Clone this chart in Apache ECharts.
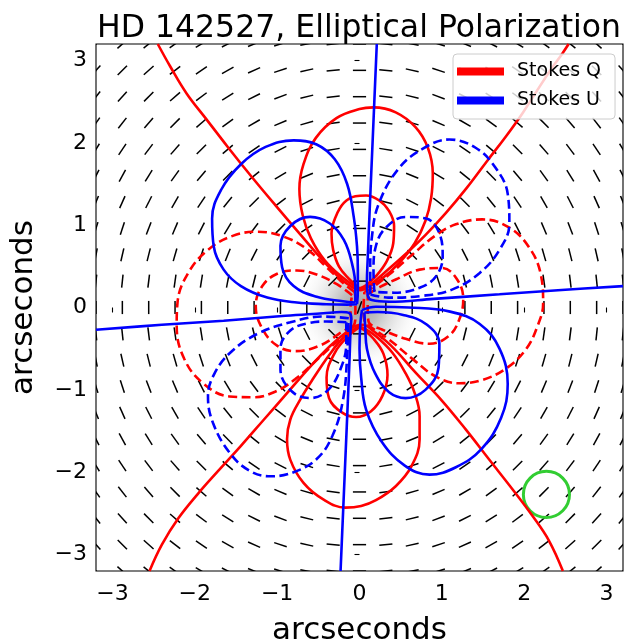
<!DOCTYPE html>
<html>
<head>
<meta charset="utf-8">
<script src="https://cdn.jsdelivr.net/npm/echarts@6/dist/echarts.min.js"></script>
<style>
  html, body { margin: 0; padding: 0; background: #ffffff; overflow: hidden; }
  #chart { width: 626px; height: 644px; }
</style>
</head>
<body>
<div id="chart"></div>
<script>
// ---- axes ----
const axisRange = [-3.2, 3.2];
const tickValues = [-3, -2, -1, 0, 1, 2, 3];
const tickLabels = ['\u22123', '\u22122', '\u22121', '0', '1', '2', '3'];

// ---- polarization vector grid (arcsec) and position angles (deg, from +x) ----
const gridValues = [-3.2, -2.88, -2.56, -2.24, -1.92, -1.6, -1.28, -0.96, -0.64, -0.32, 0,
                    0.32, 0.64, 0.96, 1.28, 1.6, 1.92, 2.24, 2.56, 2.88, 3.2];
// rows from y = +3.2 (top) down to y = -3.2 (bottom); columns x = -3.2 .. 3.2
const vectorAngles = [
  [45,42,39,35,31,27,22,17,11,6,0,174,169,163,158,153,149,145,141,138,135],
  [48,45,42,38,34,29,24,18,13,6,0,174,167,162,156,151,146,142,138,135,132],
  [51,48,45,41,37,32,27,21,14,7,0,173,166,159,153,148,143,139,135,132,129],
  [55,52,49,45,41,36,30,23,16,8,0,172,164,157,150,144,139,135,131,128,125],
  [59,56,53,49,45,40,34,27,18,9,0,171,162,153,146,140,135,131,127,124,121],
  [63,61,58,54,50,45,39,31,22,11,0,169,158,149,141,135,130,126,122,119,117],
  [68,66,63,60,56,51,45,37,27,14,0,166,153,143,135,129,124,120,117,114,112],
  [73,72,69,67,63,59,53,45,34,18,0,162,146,135,127,121,117,113,111,108,107],
  [79,77,76,74,72,68,63,56,45,27,0,153,135,124,117,112,108,106,104,103,101],
  [84,84,83,82,81,79,76,72,63,45,0,135,117,108,104,101,99,98,97,96,96],
  [90,90,90,90,90,90,90,90,90,90,70,90,90,90,90,90,90,90,90,90,90],
  [96,96,97,98,99,101,104,108,117,135,0,45,63,72,76,79,81,82,83,84,84],
  [101,103,104,106,108,112,117,124,135,153,0,27,45,56,63,68,72,74,76,77,79],
  [107,108,111,113,117,121,127,135,146,162,0,18,34,45,53,59,63,67,69,72,73],
  [112,114,117,120,124,129,135,143,153,166,0,14,27,37,45,51,56,60,63,66,68],
  [117,119,122,126,130,135,141,149,158,169,0,11,22,31,39,45,50,54,58,61,63],
  [121,124,127,131,135,140,146,153,162,171,0,9,18,27,34,40,45,49,53,56,59],
  [125,128,131,135,139,144,150,157,164,172,0,8,16,23,30,36,41,45,49,52,55],
  [129,132,135,139,143,148,153,159,166,173,0,7,14,21,27,32,37,41,45,48,51],
  [132,135,138,142,146,151,156,162,167,174,0,6,13,18,24,29,34,38,42,45,48],
  [135,138,141,145,149,153,158,163,169,174,0,6,11,17,22,27,31,35,39,42,45]
];
const vectorLength = 0.16;   // arcsec

// ---- stellar halo and beam ----
const haloCenter = [0, 0];
const haloRadius = 0.8;
const beamCenter = [2.27, -2.27];
const beamRadius = 0.28;

// ---- Stokes Q contours (arcsec) ----
const qZeroUpper = [[-2.45,3.2],[-2.3,2.93],[-2.1,2.6],[-1.87,2.3],[-1.6,1.95],[-1.32,1.6],[-1.02,1.24],
  [-0.73,0.9],[-0.47,0.6],[-0.24,0.36],[-0.08,0.24],[0.01,0.21],[0.1,0.25],[0.3,0.42],[0.55,0.64],
  [0.8,0.88],[1.05,1.15],[1.3,1.45],[1.55,1.78],[1.78,2.08],[1.98,2.36],[2.16,2.64],[2.33,2.9],[2.46,3.08],[2.54,3.2]];
const qZeroLower = [[-2.55,-3.2],[-2.4,-2.88],[-2.2,-2.56],[-1.96,-2.26],[-1.73,-2.0],[-1.44,-1.68],[-1.16,-1.36],
  [-0.88,-1.04],[-0.6,-0.72],[-0.36,-0.47],[-0.16,-0.3],[-0.04,-0.22],[0.04,-0.21],[0.16,-0.28],[0.38,-0.46],
  [0.69,-0.8],[1.0,-1.13],[1.29,-1.48],[1.57,-1.84],[1.86,-2.21],[2.1,-2.53],[2.3,-2.83],[2.47,-3.2]];
const qPosTopOuter = [[0.0,0.22],[-0.2,0.36],[-0.42,0.57],[-0.59,0.84],[-0.69,1.12],[-0.73,1.44],[-0.68,1.74],
  [-0.53,2.06],[-0.28,2.3],[0.0,2.41],[0.17,2.43],[0.44,2.37],[0.68,2.19],[0.83,1.94],[0.89,1.63],[0.87,1.33],
  [0.8,1.05],[0.67,0.78],[0.48,0.54],[0.27,0.35],[0.08,0.24],[0.0,0.22]];
const qPosTopInner = [[0.0,0.23],[-0.13,0.35],[-0.25,0.5],[-0.32,0.7],[-0.34,0.9],[-0.29,1.1],[-0.19,1.27],
  [-0.05,1.35],[0.08,1.36],[0.24,1.3],[0.36,1.17],[0.42,0.99],[0.41,0.78],[0.33,0.56],[0.2,0.38],[0.08,0.27],[0.0,0.23]];
const qPosBottomOuter = [[-0.01,-0.23],[-0.2,-0.37],[-0.37,-0.58],[-0.56,-0.86],[-0.72,-1.12],[-0.84,-1.36],
  [-0.88,-1.6],[-0.84,-1.85],[-0.68,-2.13],[-0.44,-2.33],[-0.17,-2.43],[0.02,-2.41],[0.2,-2.34],[0.44,-2.17],
  [0.63,-1.93],[0.73,-1.6],[0.73,-1.32],[0.67,-1.04],[0.56,-0.8],[0.4,-0.55],[0.2,-0.35],[0.05,-0.25],[-0.01,-0.23]];
const qPosBottomInner = [[0.0,-0.24],[-0.15,-0.36],[-0.3,-0.55],[-0.4,-0.85],[-0.37,-1.1],[-0.22,-1.27],
  [-0.04,-1.33],[0.14,-1.26],[0.28,-1.07],[0.34,-0.82],[0.29,-0.56],[0.17,-0.38],[0.05,-0.27],[0.0,-0.24]];
const qNegLeftOuter = [[-0.06,0.19],[-0.18,0.28],[-0.38,0.47],[-0.64,0.71],[-0.92,0.86],[-1.24,0.92],[-1.54,0.87],
  [-1.84,0.7],[-2.08,0.42],[-2.21,0.06],[-2.22,-0.22],[-2.13,-0.62],[-1.9,-0.92],[-1.58,-1.08],[-1.28,-1.09],
  [-1.02,-1.02],[-0.78,-0.87],[-0.5,-0.62],[-0.25,-0.39],[-0.09,-0.25],[-0.05,-0.14],[-0.05,0.0],[-0.05,0.12],[-0.06,0.19]];
const qNegLeftInner = [[-0.09,0.15],[-0.27,0.28],[-0.52,0.4],[-0.76,0.45],[-1.0,0.41],[-1.18,0.26],[-1.26,0.02],
  [-1.2,-0.22],[-1.02,-0.45],[-0.78,-0.53],[-0.5,-0.47],[-0.25,-0.32],[-0.1,-0.19],[-0.11,-0.02],[-0.09,0.15]];
const qNegRightOuter = [[0.06,0.19],[0.14,0.23],[0.36,0.4],[0.65,0.65],[0.93,0.88],[1.17,1.01],[1.49,1.07],
  [1.82,0.97],[2.06,0.73],[2.2,0.41],[2.23,0.05],[2.16,-0.23],[2.02,-0.51],[1.78,-0.74],[1.49,-0.88],[1.21,-0.92],
  [0.93,-0.84],[0.65,-0.63],[0.36,-0.39],[0.14,-0.24],[0.06,-0.17],[0.05,0.0],[0.06,0.19]];
const qNegRightInner = [[0.1,0.16],[0.25,0.25],[0.44,0.34],[0.73,0.46],[1.0,0.48],[1.18,0.35],[1.26,0.1],
  [1.21,-0.15],[1.08,-0.35],[0.85,-0.44],[0.56,-0.38],[0.28,-0.27],[0.11,-0.17],[0.1,0.0],[0.1,0.16]];

// ---- Stokes U contours (arcsec) ----
const uZeroUpperRight = [[0.21,3.2],[0.18,2.5],[0.15,1.8],[0.12,1.1],[0.1,0.6],[0.09,0.3],[0.1,0.15],[0.15,0.09],
  [0.36,0.07],[0.9,0.105],[1.7,0.16],[2.5,0.215],[3.2,0.26]];
const uZeroLowerLeft = [[-3.2,-0.27],[-2.4,-0.21],[-1.65,-0.16],[-0.9,-0.1],[-0.44,-0.07],[-0.22,-0.055],[-0.12,-0.07],
  [-0.1,-0.13],[-0.11,-0.3],[-0.12,-0.6],[-0.14,-1.1],[-0.17,-1.8],[-0.2,-2.5],[-0.23,-3.2]];
const uPosTopLeftOuter = [[-0.03,0.04],[-0.02,0.2],[-0.02,0.45],[-0.03,0.74],[-0.07,1.1],[-0.15,1.5],[-0.3,1.8],
  [-0.52,1.98],[-0.8,2.03],[-1.14,1.95],[-1.44,1.74],[-1.68,1.43],[-1.79,1.08],[-1.77,0.74],[-1.65,0.46],[-1.44,0.26],
  [-1.12,0.12],[-0.76,0.06],[-0.4,0.04],[-0.15,0.035],[-0.03,0.04]];
const uPosTopLeftInner = [[-0.05,0.06],[-0.05,0.25],[-0.09,0.53],[-0.19,0.82],[-0.36,1.02],[-0.6,1.1],[-0.84,0.99],
  [-0.96,0.75],[-0.94,0.49],[-0.8,0.26],[-0.52,0.13],[-0.2,0.075],[-0.05,0.06]];
const uPosBottomRightOuter = [[0.03,-0.03],[0.01,-0.2],[0.0,-0.5],[0.02,-0.85],[0.08,-1.24],[0.27,-1.63],[0.55,-1.92],
  [0.85,-2.03],[1.17,-1.94],[1.48,-1.72],[1.72,-1.34],[1.8,-0.93],[1.7,-0.5],[1.46,-0.2],[1.1,-0.05],[0.6,0.0],
  [0.2,0.01],[0.03,-0.03]];
const uPosBottomRightInner = [[0.06,-0.06],[0.07,-0.25],[0.09,-0.5],[0.19,-0.8],[0.36,-1.03],[0.56,-1.1],[0.8,-1.0],
  [0.96,-0.73],[0.97,-0.44],[0.82,-0.21],[0.53,-0.09],[0.22,-0.055],[0.06,-0.06]];
const uNegTopRightOuter = [[0.13,0.16],[0.13,0.45],[0.15,0.85],[0.23,1.25],[0.47,1.68],[0.77,1.93],[1.09,2.04],
  [1.41,1.94],[1.65,1.7],[1.8,1.38],[1.82,1.02],[1.7,0.7],[1.46,0.42],[1.13,0.22],[0.75,0.14],[0.35,0.12],[0.13,0.16]];
const uNegTopRightInner = [[0.18,0.19],[0.17,0.45],[0.2,0.75],[0.32,0.97],[0.56,1.1],[0.81,1.08],[0.97,0.9],
  [1.01,0.62],[0.93,0.38],[0.73,0.24],[0.42,0.18],[0.18,0.19]];
const uNegBottomLeftOuter = [[-0.13,-0.13],[-0.44,-0.11],[-0.84,-0.18],[-1.24,-0.32],[-1.56,-0.54],[-1.76,-0.8],
  [-1.84,-1.08],[-1.78,-1.4],[-1.58,-1.76],[-1.34,-1.98],[-1.08,-2.05],[-0.8,-2.0],[-0.52,-1.84],[-0.33,-1.56],
  [-0.2,-1.12],[-0.15,-0.6],[-0.14,-0.3],[-0.13,-0.13]];
const uNegBottomLeftInner = [[-0.16,-0.18],[-0.4,-0.17],[-0.62,-0.19],[-0.84,-0.28],[-0.96,-0.5],[-0.96,-0.75],
  [-0.82,-1.02],[-0.6,-1.1],[-0.38,-1.0],[-0.22,-0.72],[-0.16,-0.42],[-0.16,-0.18]];

// ---- styling ----
const FONT = 'DejaVu Sans';
const RED = '#ff0000';
const BLUE = '#0000ff';
const GREEN = '#32cd32';

const vectorData = [];
vectorAngles.forEach((row, r) => {
  const y = gridValues[gridValues.length - 1 - r];
  row.forEach((ang, c) => vectorData.push([gridValues[c], y, ang]));
});

function contour(name, pts, color, dashed) {
  return {
    type: 'line', name: name, data: pts, color: color,
    showSymbol: false, symbol: 'none', smooth: 0.4, silent: true, clip: true,
    lineStyle: { color: color, width: 2.6, type: dashed ? [9, 4.5] : 'solid', cap: 'butt' },
    itemStyle: { color: color }
  };
}

const qSeries = [
  contour('Stokes Q', qZeroUpper, RED, false),
  contour('Stokes Q', qZeroLower, RED, false),
  contour('Stokes Q', qPosTopOuter, RED, false),
  contour('Stokes Q', qPosTopInner, RED, false),
  contour('Stokes Q', qPosBottomOuter, RED, false),
  contour('Stokes Q', qPosBottomInner, RED, false),
  contour('Stokes Q', qNegLeftOuter, RED, true),
  contour('Stokes Q', qNegLeftInner, RED, true),
  contour('Stokes Q', qNegRightOuter, RED, true),
  contour('Stokes Q', qNegRightInner, RED, true)
];
const uSeries = [
  contour('Stokes U', uZeroUpperRight, BLUE, false),
  contour('Stokes U', uZeroLowerLeft, BLUE, false),
  contour('Stokes U', uPosTopLeftOuter, BLUE, false),
  contour('Stokes U', uPosTopLeftInner, BLUE, false),
  contour('Stokes U', uPosBottomRightOuter, BLUE, false),
  contour('Stokes U', uPosBottomRightInner, BLUE, false),
  contour('Stokes U', uNegTopRightOuter, BLUE, true),
  contour('Stokes U', uNegTopRightInner, BLUE, true),
  contour('Stokes U', uNegBottomLeftOuter, BLUE, true),
  contour('Stokes U', uNegBottomLeftInner, BLUE, true)
];

function tickText(v) {
  const i = tickValues.indexOf(Math.round(v));
  return i >= 0 ? tickLabels[i] : '';
}

function axis(name, nameGap, labelMargin) {
  return {
    type: 'value', min: axisRange[0], max: axisRange[1],
    axisLine: { show: false },
    splitLine: { show: false },
    axisTick: { show: true, length: 5, customValues: tickValues, lineStyle: { color: '#000', width: 1.1 } },
    axisLabel: { customValues: tickValues, formatter: tickText, fontSize: 22, color: '#000', fontFamily: FONT, margin: labelMargin },
    name: name, nameLocation: 'middle', nameGap: nameGap,
    nameTextStyle: { fontSize: 31, color: '#000', fontFamily: FONT }
  };
}

const haloFill = new echarts.graphic.RadialGradient(0.5, 0.5, 0.5, [
  { offset: 0, color: 'rgba(160,160,160,1)' },
  { offset: 0.3, color: 'rgba(185,185,185,0.9)' },
  { offset: 0.55, color: 'rgba(212,212,212,0.6)' },
  { offset: 0.8, color: 'rgba(238,238,238,0.25)' },
  { offset: 1, color: 'rgba(255,255,255,0)' }
]);

const chart = echarts.init(document.getElementById('chart'), null, { renderer: 'canvas' });
chart.setOption({
  animation: false,
  backgroundColor: '#ffffff',
  title: {
    text: 'HD 142527, Elliptical Polarization',
    left: 354, top: 8, textAlign: 'center',
    textStyle: { fontSize: 31.5, fontWeight: 'normal', color: '#000', fontFamily: FONT }
  },
  grid: {
    left: 96, top: 44, width: 527, height: 527, show: true,
    borderColor: '#000', borderWidth: 1.1, backgroundColor: 'transparent',
    outerBoundsMode: 'none', containLabel: false
  },
  xAxis: axis('arcseconds', 44, 12),
  yAxis: axis('arcseconds', 57, 9),
  legend: {
    orient: 'vertical', left: 453, top: 54, icon: 'rect',
    itemWidth: 47, itemHeight: 8, itemGap: 8,
    padding: [7, 14, 8, 4],
    backgroundColor: 'rgba(255,255,255,0.8)', borderColor: '#cccccc', borderWidth: 1, borderRadius: 4,
    textStyle: { fontSize: 19, color: '#000', fontFamily: FONT, lineHeight: 21, padding: [0, 0, 0, 8] },
    selectedMode: false,
    data: [
      { name: 'Stokes Q', itemStyle: { color: RED } },
      { name: 'Stokes U', itemStyle: { color: BLUE } }
    ]
  },
  series: [
    {
      type: 'custom', name: 'halo', silent: true, clip: true,
      data: [[haloCenter[0], haloCenter[1], haloRadius]],
      renderItem: function (params, api) {
        const c = api.coord([api.value(0), api.value(1)]);
        const r = api.size([api.value(2), 0])[0];
        return {
          type: 'circle', shape: { cx: c[0], cy: c[1], r: r },
          style: { fill: haloFill }
        };
      }
    },
    {
      type: 'custom', name: 'vectors', silent: true, clip: true,
      data: vectorData,
      renderItem: function (params, api) {
        const x = api.value(0), y = api.value(1), a = api.value(2) * Math.PI / 180;
        const h = vectorLength / 2;
        const p1 = api.coord([x - h * Math.cos(a), y - h * Math.sin(a)]);
        const p2 = api.coord([x + h * Math.cos(a), y + h * Math.sin(a)]);
        return { type: 'line', shape: { x1: p1[0], y1: p1[1], x2: p2[0], y2: p2[1] },
                 style: { stroke: '#000', lineWidth: 1.5 } };
      }
    }
  ].concat(qSeries, uSeries, [
    {
      type: 'custom', name: 'beam', silent: true, clip: true,
      data: [[beamCenter[0], beamCenter[1], beamRadius]],
      renderItem: function (params, api) {
        const c = api.coord([api.value(0), api.value(1)]);
        const r = api.size([api.value(2), 0])[0];
        return { type: 'circle', shape: { cx: c[0], cy: c[1], r: r },
                 style: { fill: 'none', stroke: GREEN, lineWidth: 3 } };
      }
    }
  ])
});
</script>
</body>
</html>
